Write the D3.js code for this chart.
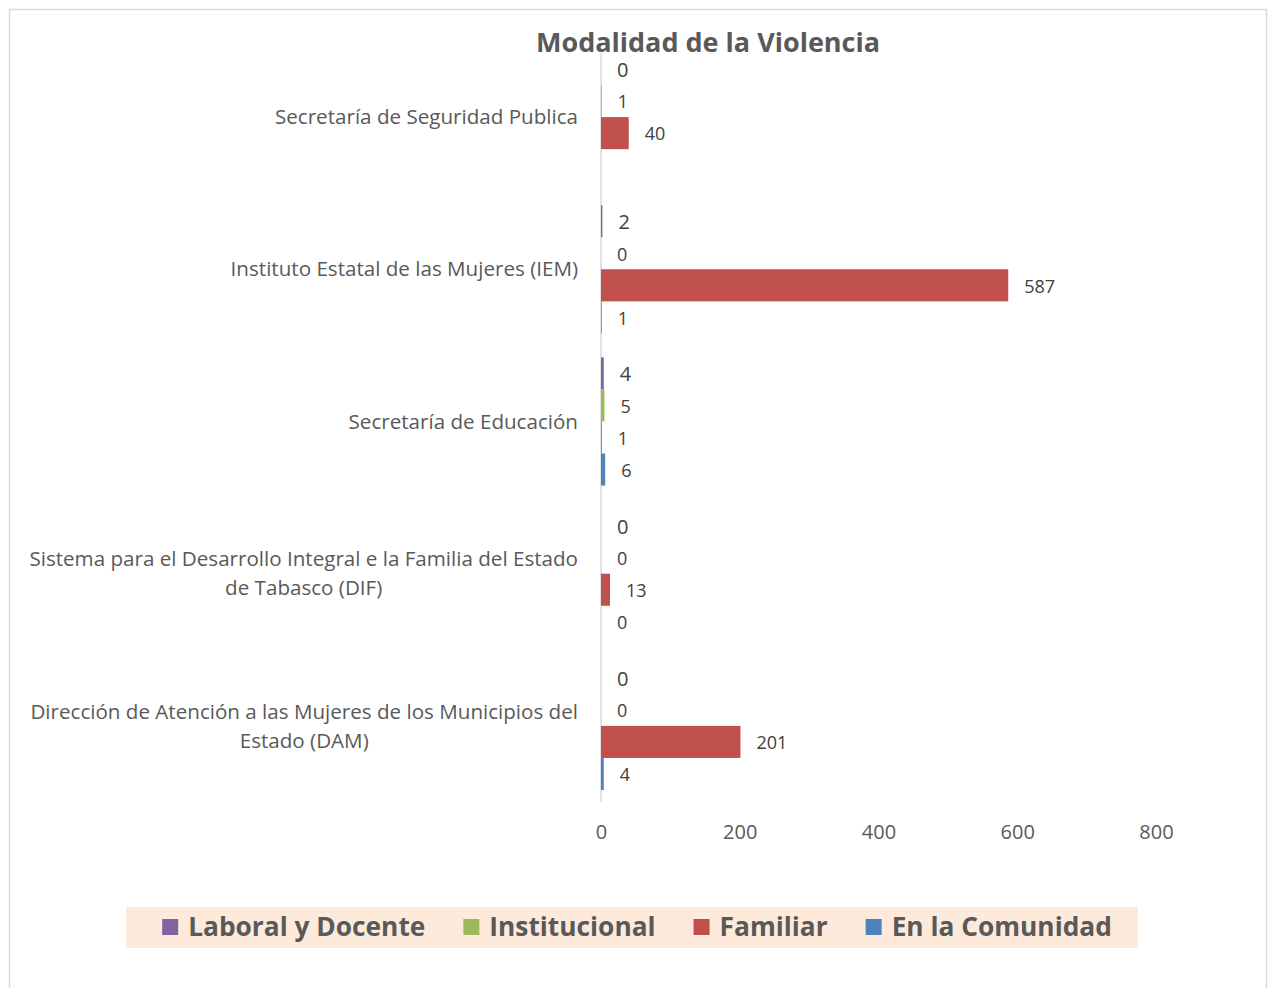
<!DOCTYPE html>
<html>
<head>
<meta charset="utf-8">
<script src="https://cdn.jsdelivr.net/npm/d3@7"></script>
<style>
  body { margin: 0; background: #fff; }
  svg { display: block; font-family: 'Open Sans', sans-serif; }
</style>
</head>
<body>
<svg id="chart" width="1269" height="988"></svg>
<script>
// Modalidad de la Violencia - grouped horizontal bars

const categories = [
  'Secretaría de Seguridad Publica',
  'Instituto Estatal de las Mujeres (IEM)',
  'Secretaría de Educación',
  'Sistema para el Desarrollo Integral e la Familia del Estado de Tabasco (DIF)',
  'Dirección de Atención a las Mujeres de los Municipios del Estado (DAM)'
];
const seriesNames = ['Laboral y Docente', 'Institucional', 'Familiar', 'En la Comunidad'];
const laboral = [0, 2, 4, 0, 0];
const institucional = [1, 0, 5, 0, 0];
const familiar = [40, 587, 1, 13, 201];
const comunidad = [null, 1, 6, 0, 4];
const xTicks = [0, 200, 400, 600, 800];

const seriesValues = [laboral, institucional, familiar, comunidad];
const colors = ['#8064A2', '#9BBB59', '#C0504D', '#4F81BD'];

const svg = d3.select('#chart');

// outer chart border
svg.append('rect')
  .attr('x', 9.5).attr('y', 9.5).attr('width', 1257).attr('height', 990)
  .attr('fill', '#fff').attr('stroke', '#d9d9d9').attr('stroke-width', 1.5);

const x = d3.scaleLinear().domain([0, 800]).range([601, 1156]);
const y = d3.scaleBand().domain(categories).range([41, 802]);
const ySub = d3.scaleBand().domain(seriesNames).range([12, y.bandwidth() - 12]);

// title
svg.append('text')
  .attr('x', 708).attr('y', 52)
  .attr('text-anchor', 'middle')
  .attr('font-size', 27).attr('font-weight', 700)
  .attr('fill', '#595959')
  .text('Modalidad de la Violencia');

// vertical axis line
svg.append('line')
  .attr('x1', x(0)).attr('x2', x(0))
  .attr('y1', y(categories[0]) + ySub(seriesNames[0]))
  .attr('y2', y.range()[1])
  .attr('stroke', '#d9d9d9').attr('stroke-width', 1.5);

// bars + labels
const groups = svg.append('g').selectAll('g')
  .data(categories)
  .join('g')
  .attr('transform', d => `translate(0,${y(d)})`);

seriesNames.forEach((s, si) => {
  const vals = seriesValues[si];
  groups.each(function (cat, ci) {
    const v = vals[ci];
    if (v == null) return;
    const g = d3.select(this);
    if (v > 0) {
      g.append('rect')
        .attr('x', x(0))
        .attr('y', ySub(s))
        .attr('width', x(v) - x(0))
        .attr('height', ySub.bandwidth())
        .attr('fill', colors[si]);
    }
    g.append('text')
      .attr('x', x(v) + 16)
      .attr('y', ySub(s) + ySub.bandwidth() / 2 + 1)
      .attr('dy', '0.35em')
      .attr('font-size', si === 0 ? 20 : 18)
      .attr('fill', '#404040')
      .text(v);
  });
});

// category labels (wrapped, lines centred inside a right-aligned box)
const maxLabelW = 565;
groups.each(function (cat) {
  const g = d3.select(this);
  const t = g.append('text')
    .attr('font-size', 20.6)
    .attr('fill', '#595959')
    .attr('text-anchor', 'middle');
  const words = cat.split(' ');
  const lines = [];
  let line = [];
  const probe = t.append('tspan');
  words.forEach(w => {
    const test = line.concat(w).join(' ');
    probe.text(test);
    if (probe.node().getComputedTextLength() > maxLabelW && line.length) {
      lines.push(line.join(' '));
      line = [w];
    } else {
      line.push(w);
    }
  });
  lines.push(line.join(' '));
  let widest = 0;
  lines.forEach(l => {
    probe.text(l);
    widest = Math.max(widest, probe.node().getComputedTextLength());
  });
  probe.remove();
  const cx = 578 - widest / 2;
  const lh = 29;
  const mid = y.bandwidth() / 2;
  lines.forEach((l, i) => {
    t.append('tspan')
      .attr('x', cx)
      .attr('y', mid + (i - (lines.length - 1) / 2) * lh)
      .attr('dy', '0.35em')
      .text(l);
  });
});

// x axis tick labels
const xAxis = svg.append('g')
  .attr('transform', 'translate(0,832)')
  .call(d3.axisBottom(x).tickValues(xTicks).tickSize(0).tickPadding(0));
xAxis.select('.domain').remove();
xAxis.selectAll('text')
  .attr('dy', '0.35em')
  .attr('font-size', 20)
  .attr('font-family', "'Open Sans', sans-serif")
  .attr('fill', '#595959');

// legend
const legend = svg.append('g');
legend.append('rect')
  .attr('x', 126).attr('y', 907).attr('width', 1012).attr('height', 41)
  .attr('fill', '#FDEADA');
const items = legend.selectAll('g.item')
  .data(seriesNames)
  .join('g')
  .attr('class', 'item');
items.append('rect')
  .attr('width', 16).attr('height', 16)
  .attr('y', 919)
  .attr('fill', (d, i) => colors[i]);
items.append('text')
  .attr('x', 26).attr('y', 927)
  .attr('dy', '0.35em')
  .attr('font-size', 26.3).attr('font-weight', 700)
  .attr('fill', '#595959')
  .text(d => d);
const gap = 38;
let widths = [];
items.each(function () {
  widths.push(26 + d3.select(this).select('text').node().getComputedTextLength());
});
const total = d3.sum(widths) + gap * (widths.length - 1);
let cur = 637 - total / 2;
items.each(function (d, i) {
  d3.select(this).attr('transform', `translate(${cur},0)`);
  cur += widths[i] + gap;
});
</script>
</body>
</html>
